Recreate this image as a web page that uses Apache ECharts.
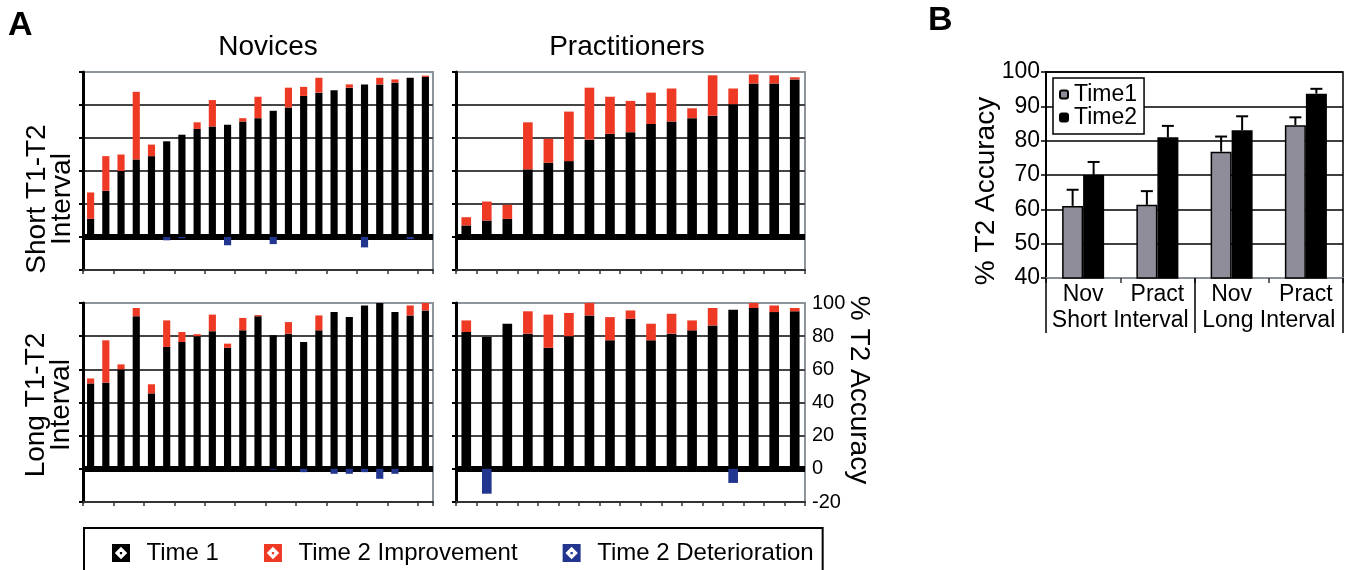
<!DOCTYPE html>
<html>
<head>
<meta charset="utf-8">
<script src="https://cdn.jsdelivr.net/npm/echarts@6/dist/echarts.min.js"></script>
<style>
html,body{margin:0;padding:0;background:#fff;}
#chart{width:1353px;height:570px;}
</style>
</head>
<body>
<div id="chart"></div>
<script>
// ---------- Panel A data (% T2 accuracy per participant) ----------
var novShortT1  = [11, 28, 40, 47, 49, 58, 62, 65.5, 67, 68, 70, 72, 76.5, 78.5, 85.5, 87.5, 89, 90.5, 92.5, 92.5, 93.5, 96.5, 97];
var novShortImp = [16, 21, 10, 41, 7, 0, 0, 4, 16, 0, 2, 13, 0, 12, 5.5, 9, 0, 2, 0, 4, 2, 0, 0.8];
var novShortDet = [0, 0, 0, 0, 0, -2, -0.8, 0, 0, -5, 0, 0, -4.3, 0, 0, 0, 0, 0, -6.3, 0, 0, -1.3, 0];

var pracShortT1  = [7, 10, 11, 41, 45, 46, 59, 62.5, 63.5, 68.5, 70, 72, 73.5, 80.5, 93, 93, 95.5];
var pracShortImp = [5, 11.5, 8.5, 28.5, 14.5, 30, 31.5, 22.5, 19, 19, 20, 6, 24.5, 9.5, 5.5, 5, 1.3];
var pracShortDet = [0, 0, 0, 0, 0, 0, 0, 0, 0, 0, 0, 0, 0, 0, 0, 0, 0];

var novLongT1  = [51.5, 52, 60, 92, 45.5, 73.5, 76.5, 80, 83, 73, 83.5, 92, 80.5, 81.5, 76.5, 83.5, 94.5, 91.5, 98.5, 100, 94.5, 92.5, 95.5];
var novLongImp = [3, 25.5, 3, 5, 5.5, 16, 6, 1.2, 10, 2.5, 7.5, 0.7, 0, 7, 0, 9, 0, 0, 0, 0, 0, 6, 4.5];
var novLongDet = [0, 0, 0, 0, 0, 0, 0, 0, 0, 0, 0, 0, -0.5, 0, -2, 0, -3, -3, -2, -6, -3, 0, 0];

var pracLongT1  = [82.5, 79.5, 87.5, 81.5, 73, 80, 92.5, 77.5, 90.5, 77.5, 81.5, 83.5, 86.5, 96, 97, 94.5, 95];
var pracLongImp = [7, 0, 0, 13.5, 20, 14, 7.5, 14, 5, 10, 12, 6, 10.5, 0, 3, 4, 2];
var pracLongDet = [0, -15, 0, 0, 0, 0, 0, 0, 0, 0, 0, 0, 0, -8.5, 0, 0, 0];

var aTickLabels = [-20, 0, 20, 40, 60, 80, 100];

// ---------- Panel B data (group means and SE) ----------
var bCategories = ['Nov', 'Pract', 'Nov', 'Pract'];
var bIntervals  = ['Short Interval', 'Long Interval'];
var bTime1      = [61, 61.3, 76.8, 84.5];
var bTime2      = [70, 81, 83, 93.7];
var bTime1Err   = [4.7, 4, 4.4, 2.3];
var bTime2Err   = [3.8, 3.3, 4.1, 1.4];

var FONT = "'Liberation Sans', Arial, sans-serif";
var RED = '#ee3a24', BLUE = '#23368f', GRAYBORDER = '#8d949c';

var panels = [
  {t1: novShortT1, imp: novShortImp, det: novShortDet, grid: {left: 83, top: 72, width: 350, height: 198}},
  {t1: pracShortT1, imp: pracShortImp, det: pracShortDet, grid: {left: 456, top: 72, width: 349, height: 198}},
  {t1: novLongT1, imp: novLongImp, det: novLongDet, grid: {left: 83, top: 303, width: 350, height: 199}},
  {t1: pracLongT1, imp: pracLongImp, det: pracLongDet, grid: {left: 456, top: 303, width: 349, height: 199}}
];

var grids = [], xAxes = [], yAxes = [], series = [];
panels.forEach(function (p, i) {
  grids.push(Object.assign({show: true, borderColor: GRAYBORDER, borderWidth: 2, backgroundColor: '#fff'}, p.grid));
  xAxes.push({
    type: 'category', gridIndex: i, position: 'bottom',
    data: p.t1.map(function (v, k) { return String(k + 1); }),
    boundaryGap: true,
    axisLine: {onZero: false, lineStyle: {color: '#333', width: 2}},
    axisTick: {show: true, length: 4, lineStyle: {color: '#333', width: 1.5}},
    axisLabel: {show: false},
    splitLine: {show: false}
  });
  yAxes.push({
    type: 'value', gridIndex: i, position: 'left',
    min: aTickLabels[0], max: aTickLabels[aTickLabels.length - 1], interval: 20,
    axisLine: {show: true, lineStyle: {color: '#000', width: 3}},
    axisTick: {show: true, length: 4, lineStyle: {color: '#000', width: 2}},
    axisLabel: {show: false},
    splitLine: {show: true, lineStyle: {color: ['#444', '#000', '#444', '#444', '#444', '#444', GRAYBORDER], width: 2}}
  });
  var stackName = 'st' + i;
  series.push({
    name: 'Time 1', type: 'bar', xAxisIndex: i, yAxisIndex: i, stack: stackName,
    barWidth: '47%', data: p.t1, itemStyle: {color: '#000'}, z: 2,
    markLine: {
      silent: true, symbol: ['none', 'none'], z: 5,
      label: {show: false},
      lineStyle: {color: '#000', width: 6, type: 'solid'},
      data: [{yAxis: 0}]
    }
  });
  series.push({
    name: 'Time 2 Improvement', type: 'bar', xAxisIndex: i, yAxisIndex: i, stack: stackName,
    barWidth: '47%', data: p.imp, itemStyle: {color: RED}, z: 2
  });
  series.push({
    name: 'Time 2 Deterioration', type: 'bar', xAxisIndex: i, yAxisIndex: i, stack: stackName,
    barWidth: '47%', data: p.det, itemStyle: {color: BLUE}, z: 10
  });
});

// right-hand labelled axis of bottom-right panel
yAxes.push({
  type: 'value', gridIndex: 3, position: 'right',
  min: aTickLabels[0], max: aTickLabels[aTickLabels.length - 1], interval: 20,
  axisLine: {show: false}, axisTick: {show: false}, splitLine: {show: false},
  axisLabel: {show: true, fontSize: 20, color: '#000', margin: 7, fontFamily: FONT}
});

// ---------- Panel B ----------
var bGrid = grids.length;
grids.push({left: 1046, top: 72, width: 297, height: 206, show: true, borderColor: '#000', borderWidth: 1.5});
var bX = xAxes.length;
xAxes.push({
  type: 'category', gridIndex: bGrid, position: 'bottom', data: bCategories,
  axisLine: {lineStyle: {color: '#8a8f96', width: 2}},
  axisTick: {show: true, length: 5, lineStyle: {color: '#333', width: 1.5}},
  axisLabel: {interval: 0, fontSize: 23, color: '#000', margin: 5, fontFamily: FONT}
});
xAxes.push({
  type: 'category', gridIndex: bGrid, position: 'bottom', data: bIntervals,
  axisLine: {show: false},
  axisTick: {show: true, length: 55, lineStyle: {color: '#000', width: 1.5}},
  axisLabel: {interval: 0, hideOverlap: false, fontSize: 23, color: '#000', margin: 31, fontFamily: FONT}
});
var bY = yAxes.length;
yAxes.push({
  type: 'value', gridIndex: bGrid, min: 40, max: 100, interval: 10,
  axisLine: {show: true, lineStyle: {color: '#000', width: 2}},
  axisTick: {show: true, length: 5, lineStyle: {color: '#000', width: 1.5}},
  axisLabel: {fontSize: 23, color: '#000', margin: 6, fontFamily: FONT},
  splitLine: {show: true, lineStyle: {color: '#000', width: 1.5}}
});

series.push({
  name: 'Time1', type: 'bar', xAxisIndex: bX, yAxisIndex: bY, barWidth: 21, barGap: '0%',
  data: bTime1, itemStyle: {color: '#8f8d9a', borderColor: '#000', borderWidth: 1.5}
});
series.push({
  name: 'Time2', type: 'bar', xAxisIndex: bX, yAxisIndex: bY, barWidth: 21, barGap: '0%',
  data: bTime2, itemStyle: {color: '#000', borderColor: '#000', borderWidth: 1.5}
});
function errRender(offset) {
  return function (params, api) {
    var idx = api.value(0), val = api.value(1), err = api.value(2);
    var base = api.coord([idx, val]);
    var top = api.coord([idx, val + err]);
    var x = base[0] + offset;
    var st = {stroke: '#000', lineWidth: 2};
    return {type: 'group', children: [
      {type: 'line', shape: {x1: x, y1: base[1], x2: x, y2: top[1]}, style: st},
      {type: 'line', shape: {x1: x - 6, y1: top[1], x2: x + 6, y2: top[1]}, style: st}
    ]};
  };
}
series.push({
  type: 'custom', xAxisIndex: bX, yAxisIndex: bY, z: 5, silent: true,
  renderItem: errRender(-10.5),
  data: bTime1.map(function (v, k) { return [k, v, bTime1Err[k]]; })
});
series.push({
  type: 'custom', xAxisIndex: bX, yAxisIndex: bY, z: 5, silent: true,
  renderItem: errRender(10.5),
  data: bTime2.map(function (v, k) { return [k, v, bTime2Err[k]]; })
});

var ICON = 'path://M0,0H16V16H0Z M8,2.5L2.5,8L8,13.5L13.5,8Z M7,7H9V9H7Z';

var option = {
  animation: false,
  backgroundColor: '#fff',
  textStyle: {fontFamily: FONT},
  grid: grids,
  xAxis: xAxes,
  yAxis: yAxes,
  series: series,
  legend: [
    {
      selectedMode: false,
      left: 84, top: 528,
      padding: [13, 9, 30, 28],
      borderColor: '#000', borderWidth: 2,
      itemGap: 45, itemWidth: 19, itemHeight: 18,
      textStyle: {fontSize: 24, color: '#000', padding: [0, 0, 0, 11], fontFamily: FONT},
      data: [
        {name: 'Time 1', icon: ICON},
        {name: 'Time 2 Improvement', icon: ICON},
        {name: 'Time 2 Deterioration', icon: ICON}
      ]
    },
    {
      selectedMode: false,
      orient: 'vertical',
      left: 1053, top: 78,
      padding: [5, 7, 5, 6],
      borderColor: '#000', borderWidth: 1.5, backgroundColor: '#fff',
      itemGap: 0, itemWidth: 8, itemHeight: 8,
      textStyle: {fontSize: 23, color: '#000', lineHeight: 18, padding: [0, 0, 0, 1], fontFamily: FONT},
      data: ['Time1', 'Time2'],
      z: 20
    }
  ],
  graphic: [
    {type: 'text', left: 8, top: 9, style: {text: 'A', font: 'bold 34px ' + FONT, fill: '#000'}},
    {type: 'text', left: 928, top: 4, style: {text: 'B', font: 'bold 34px ' + FONT, fill: '#000'}},
    {type: 'text', x: 268, y: 47, style: {text: 'Novices', font: '28px ' + FONT, fill: '#000', align: 'center', verticalAlign: 'middle'}},
    {type: 'text', x: 627, y: 47, style: {text: 'Practitioners', font: '28px ' + FONT, fill: '#000', align: 'center', verticalAlign: 'middle'}},
    {type: 'text', x: 50, y: 199, rotation: Math.PI / 2, style: {text: 'Short T1-T2\nInterval', font: '28px ' + FONT, lineHeight: 25, fill: '#000', align: 'center', verticalAlign: 'middle'}},
    {type: 'text', x: 49, y: 405, rotation: Math.PI / 2, style: {text: 'Long T1-T2\nInterval', font: '28px ' + FONT, lineHeight: 25, fill: '#000', align: 'center', verticalAlign: 'middle'}},
    {type: 'text', x: 859, y: 390, rotation: -Math.PI / 2, style: {text: '% T2 Accuracy', font: '28px ' + FONT, fill: '#000', align: 'center', verticalAlign: 'middle'}},
    {type: 'text', x: 986, y: 191, rotation: Math.PI / 2, style: {text: '% T2 Accuracy', font: '28px ' + FONT, fill: '#000', align: 'center', verticalAlign: 'middle'}}
  ]
};

var chart = echarts.init(document.getElementById('chart'), null, {renderer: 'canvas'});
chart.setOption(option);
</script>
</body>
</html>
